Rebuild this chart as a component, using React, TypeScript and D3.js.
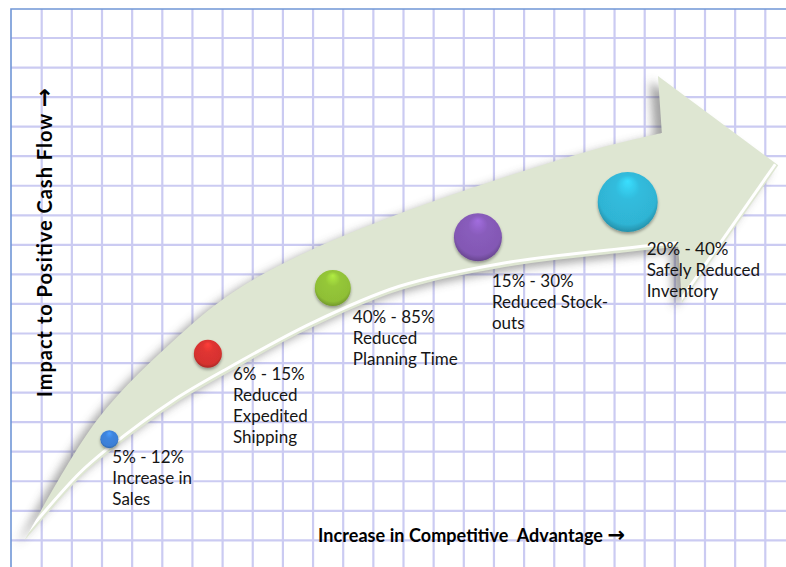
import React from "react";
import * as d3 from "d3";

const W = 786;
const H = 567;

// ---- data -------------------------------------------------------------
const rangeLabels = ["5% - 12%", "6% - 15%", "40% - 85%", "15% - 30%", "20% - 40%"];
const benefitLines = [
  ["Increase in", "Sales"],
  ["Reduced", "Expedited", "Shipping"],
  ["Reduced", "Planning Time"],
  ["Reduced Stock-", "outs"],
  ["Safely Reduced", "Inventory"],
];
// x: increase in competitive advantage, y: impact to positive cash flow (0-100)
const advantage = [12.8, 25.5, 41.6, 60.3, 79.6];
const cashFlow = [22.9, 38.2, 50.0, 59.1, 65.4];
const impactSize = [9, 14, 18, 24, 30];
const bubbleColors = ["#3b7fd6", "#d6322f", "#8fbf36", "#8358b4", "#2fb4d4"];

// trend band (arrow) outline in the same data space
const bandUpperX = [1.9, 11.2, 21.9, 28.7, 37.4, 50.3, 63.1, 76.0, 84.0];
const bandUpperY = [4.8, 26.3, 41.6, 49.2, 55.9, 63.4, 69.6, 75.1, 77.8];
const bandLowerX = [1.9, 9.0, 12.8, 21.0, 28.7, 39.0, 50.3, 63.1, 76.0, 86.1];
const bandLowerY = [4.8, 16.0, 20.6, 29.0, 35.3, 43.0, 49.6, 53.6, 55.9, 57.4];
const headX = [83.5, 99.0, 86.6]; // top barb, tip, bottom barb
const headY = [88.0, 72.0, 47.3];

const xTitle = "Increase in Competitive  Advantage ";
const yTitle = "Impact to Positive Cash Flow ";
const arrowGlyph = "\u2192";

// ---- layout -----------------------------------------------------------
const labelOffsets = [
  [3, 24],
  [25, 26],
  [20, 35],
  [14, 50],
  [19, 53],
];
const LINE = 21;

export default function App() {
  const x = d3.scaleLinear().domain([0, 100]).range([10, 786]);
  const y = d3.scaleLinear().domain([0, 100]).range([567, 9]);
  const r = d3.scaleLinear().domain([0, 30]).range([0, 30]);

  const line = d3
    .line<[number, number]>()
    .x((d) => x(d[0]))
    .y((d) => y(d[1]))
    .curve(d3.curveCatmullRom.alpha(0.5));

  const upper: [number, number][] = bandUpperX.map((v, i) => [v, bandUpperY[i]]);
  const lower: [number, number][] = bandLowerX.map((v, i) => [v, bandLowerY[i]]);
  const upperPath = line(upper) || "";
  const lowerRev = (line(lower.slice().reverse()) || "").replace(/^M/, "L");
  const head = headX.map((v, i) => `L${x(v)},${y(headY[i])}`).join("");
  const arrowPath = upperPath + head + lowerRev + "Z";
  const lowerEdge = line(lower) || "";
  const headEdge = `M${x(headX[1])},${y(headY[1])}L${x(headX[2])},${y(headY[2])}`;

  // grid
  const vLines = d3.range(41.7, W, 30.15);
  const hLines = d3.range(38, H, 29.55);

  return (
    <svg width={W} height={H} style={{ position: "absolute", left: 0, top: 0 }}>
      <defs>
        <filter id="gridBlur" x="-5%" y="-5%" width="110%" height="110%">
          <feGaussianBlur stdDeviation="0.5" />
        </filter>
        <filter id="arrowShadow" x="-20%" y="-20%" width="140%" height="140%">
          <feGaussianBlur stdDeviation="5" />
        </filter>
        <filter id="bubbleShadow" x="-40%" y="-40%" width="180%" height="180%">
          <feDropShadow dx="0" dy="2" stdDeviation="1.8" floodColor="#000" floodOpacity="0.35" />
        </filter>
        <clipPath id="arrowClip">
          <path d={arrowPath} />
        </clipPath>
        {bubbleColors.map((c, i) => {
          const base = d3.color(c)!;
          return (
            <radialGradient key={i} id={`bg${i}`} cx="50%" cy="45%" r="58%" fx="50%" fy="15%">
              <stop offset="0%" stopColor={base.brighter(0.6).formatHex()} />
              <stop offset="35%" stopColor={base.brighter(0.12).formatHex()} />
              <stop offset="82%" stopColor={base.formatHex()} />
              <stop offset="100%" stopColor={base.darker(0.8).formatHex()} />
            </radialGradient>
          );
        })}
      </defs>

      <rect x={0} y={0} width={W} height={H} fill="#ffffff" />

      <g stroke="#cbcbf2" strokeWidth={2.2} filter="url(#gridBlur)">
        {vLines.map((v, i) => (
          <line key={"v" + i} x1={v} x2={v} y1={9} y2={H} />
        ))}
        {hLines.map((v, i) => (
          <line key={"h" + i} x1={11} x2={W} y1={v} y2={v} />
        ))}
      </g>
      <path d={`M11,${H}L11,9L${W},9`} fill="none" stroke="#7096d6" strokeWidth={1.6} />

      {/* arrow band */}
      <path d={arrowPath} fill="#4a4a4a" opacity={0.5} transform="translate(-8,5)" filter="url(#arrowShadow)" />
      <path d={arrowPath} fill="#dee6d2" />
      <g clipPath="url(#arrowClip)">
        <path d={lowerEdge} fill="none" stroke="#ffffff" strokeWidth={3} transform="translate(-1,-4)" />
        <path d={headEdge} fill="none" stroke="#ffffff" strokeWidth={3} transform="translate(-3,-1)" />
      </g>

      {/* bubbles */}
      {advantage.map((a, i) => (
        <circle
          key={"b" + i}
          cx={x(a)}
          cy={y(cashFlow[i])}
          r={r(impactSize[i])}
          fill={`url(#bg${i})`}
          filter="url(#bubbleShadow)"
        />
      ))}

      {/* labels */}
      <g fontFamily="Lato, 'Open Sans', sans-serif" fontSize={17} fill="#151515">
        {advantage.map((a, i) => {
          const lx = x(a) + labelOffsets[i][0];
          const ly = y(cashFlow[i]) + labelOffsets[i][1];
          const lines = [rangeLabels[i], ...benefitLines[i]];
          return (
            <text key={"t" + i} x={lx} y={ly}>
              {lines.map((t, j) => (
                <tspan key={j} x={lx} dy={j === 0 ? 0 : LINE}>
                  {t}
                </tspan>
              ))}
            </text>
          );
        })}
      </g>

      <g fontFamily="Lato, 'Open Sans', sans-serif" fontWeight="bold" fill="#000">
        <text x={318} y={542} fontSize={18} textLength={307} lengthAdjust="spacing" style={{ whiteSpace: "pre" }}>
          {xTitle}
          <tspan fontFamily="'DejaVu Sans', sans-serif" fontSize={21}>{arrowGlyph}</tspan>
        </text>
        <text
          transform="translate(52,397) rotate(-90)"
          x={0}
          y={0}
          fontSize={20}
          textLength={309}
          lengthAdjust="spacing"
        >
          {yTitle}
          <tspan fontFamily="'DejaVu Sans', sans-serif" fontSize={23}>{arrowGlyph}</tspan>
        </text>
      </g>
    </svg>
  );
}
